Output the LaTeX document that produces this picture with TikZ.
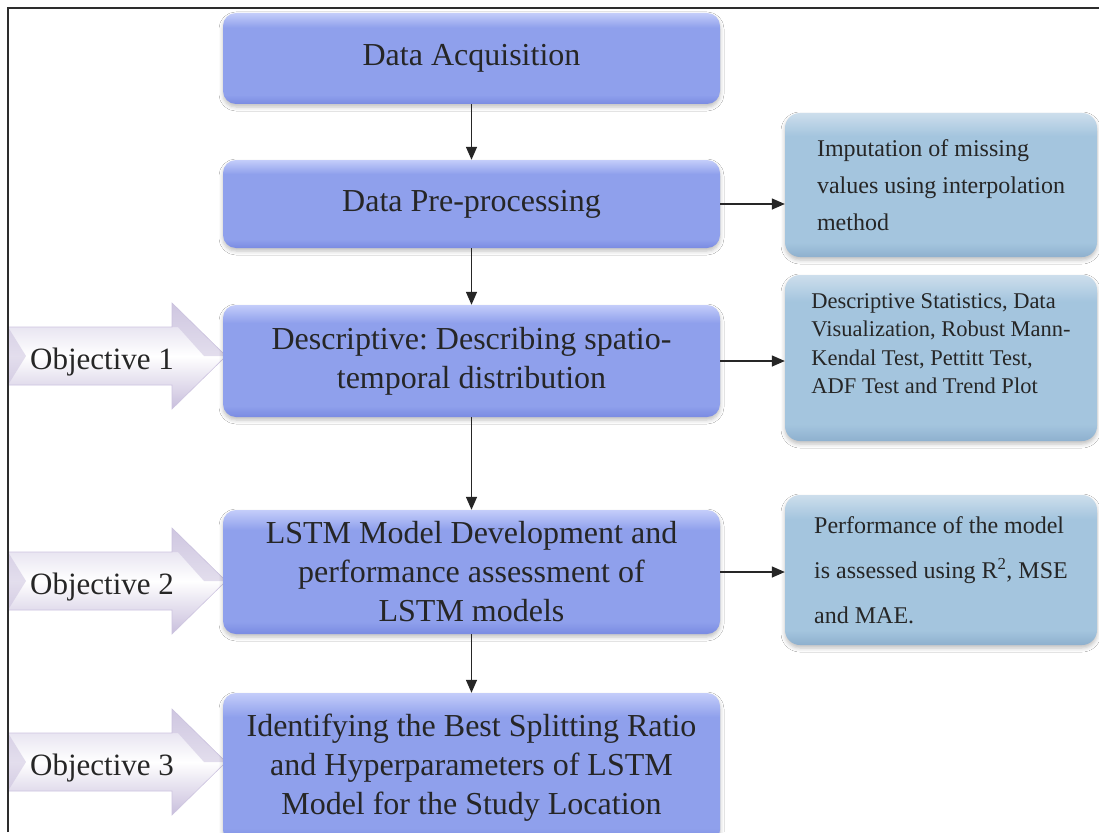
\documentclass[tikz,border=0pt]{standalone}
\usepackage{fontspec}
\setmainfont{Liberation Serif}
\frenchspacing
\usetikzlibrary{arrows.meta,shadows.blur}

% palette
\definecolor{mainTop}{RGB}{196,205,250}
\definecolor{mainMid}{RGB}{143,160,236}
\definecolor{mainBot}{RGB}{122,139,226}
\definecolor{sideTop}{RGB}{205,222,236}
\definecolor{sideMid}{RGB}{164,197,222}
\definecolor{sideBot}{RGB}{142,176,206}
\definecolor{objTop}{RGB}{214,208,230}
\definecolor{objBot}{RGB}{200,190,220}
\definecolor{objEdge}{RGB}{205,196,224}
\definecolor{frameGray}{RGB}{45,45,45}

% glossy vertical fills (path maps onto 25bp..75bp)
\pgfdeclareverticalshading{mainshade}{100bp}{color(0bp)=(mainBot); color(25bp)=(mainBot); color(30bp)=(mainMid); color(67bp)=(mainMid); color(75bp)=(mainTop); color(100bp)=(mainTop)}
\pgfdeclareverticalshading{sideshade}{100bp}{color(0bp)=(sideBot); color(25bp)=(sideBot); color(30bp)=(sideMid); color(67bp)=(sideMid); color(75bp)=(sideTop); color(100bp)=(sideTop)}

\tikzset{
  x=1pt, y=-1pt,
  mainbox/.style={rounded corners=13pt, shading=mainshade, minimum width=497pt,
    inner sep=0pt, align=center, text=black!85,
    font=\fontsize{32}{39}\selectfont,
    blur shadow={shadow xshift=0pt, shadow yshift=-3pt, shadow opacity=25, shadow blur radius=4pt}},
  sidebox/.style={rounded corners=15pt, shading=sideshade, minimum width=312pt,
    inner sep=0pt, align=left, text=black!85,
    blur shadow={shadow xshift=0pt, shadow yshift=-3pt, shadow opacity=25, shadow blur radius=4pt}},
  flow/.style={draw=black!85, line width=1.4pt, -{Triangle[length=13pt,width=11pt]}},
  objshape/.style={top color=objTop, bottom color=objBot, middle color=white, draw=objEdge, line width=0.6pt},
  objlabel/.style={font=\fontsize{31}{36}\selectfont, text=black!85, inner sep=0pt},
}

\begin{document}
\begin{tikzpicture}
\useasboundingbox (0,0) rectangle (1099,832);
\fill[white] (0,0) rectangle (1099,832);

% objective arrows
\foreach \c in {356,581,762}{
  \path[objshape] (8,\c-29) -- (172,\c-29) -- (172,\c-53) -- (226,\c)
        -- (172,\c+53) -- (172,\c+29) -- (8,\c+29) -- cycle;
  \fill[objBot, opacity=0.5] (172,\c-53) -- (226,\c) -- (204,\c) -- (178,\c-29) -- (172,\c-29) -- cycle;
  \fill[objBot, opacity=0.5] (8,\c-29) -- (26,\c) -- (8,\c+29) -- cycle;
}
\node[objlabel] (o1) at (102,362) {Objective 1};
\node[objlabel] (o2) at (102,587) {Objective 2};
\node[objlabel] (o3) at (102,768) {Objective 3};

% main workflow
\node[mainbox, minimum height=91pt]  (m1) at (471.5,58.5) {Data Acquisition};
\node[mainbox, minimum height=88pt]  (m2) at (471.5,204)  {Data Pre-processing};
\node[mainbox, minimum height=112pt] (m3) at (471.5,361)  {Descriptive: Describing spatio-\\temporal distribution};
\node[mainbox, minimum height=124pt] (m4) at (471.5,572)  {LSTM Model Development and\\performance assessment of\\LSTM models};
\node[mainbox, minimum height=150pt] (m5) at (471.5,768)  {Identifying the Best Splitting Ratio\\and Hyperparameters of LSTM\\Model for the Study Location};

% side notes
\node[sidebox, minimum height=144pt, font=\fontsize{24}{37}\selectfont] (sA) at (941,185)
  {Imputation of missing\\values using interpolation\\method};
\node[sidebox, minimum height=166pt, font=\fontsize{22.5}{28.5}\selectfont] (sB) at (941,358)
  {Descriptive Statistics, Data\\Visualization, Robust Mann-\\Kendal Test, Pettitt Test,\\ADF Test and Trend Plot\\[0pt]\mbox{}};
\node[sidebox, minimum height=150pt, font=\fontsize{24}{45}\selectfont] (sC) at (941,570)
  {Performance of the model\\is assessed using R\textsuperscript{2}, MSE\\and MAE.};

% connectors
\draw[flow] (m1) -- (m2);
\draw[flow] (m2) -- (m3);
\draw[flow] (m3) -- (m4);
\draw[flow] (m4) -- (m5);
\draw[flow] (m2.east) -- (m2.east -| sA.west);
\draw[flow] (m3.east) -- (m3.east -| sB.west);
\draw[flow] (m4.east) -- (m4.east -| sC.west);

% outer frame
\draw[frameGray, line width=2pt] (8,832) -- (8,8) -- (1099,8);
\end{tikzpicture}
\end{document}
